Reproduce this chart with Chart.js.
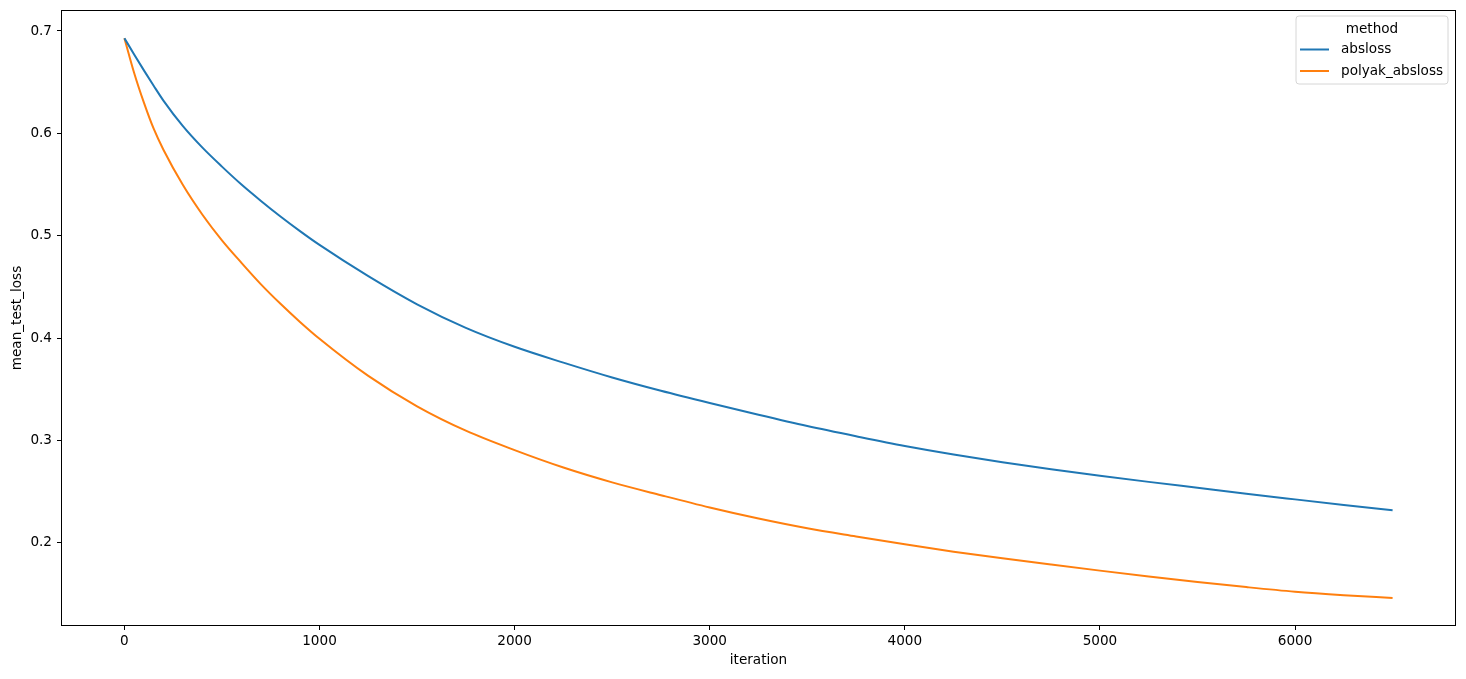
<!DOCTYPE html>
<html>
<head>
<meta charset="utf-8">
<script src="https://cdn.jsdelivr.net/npm/chart.js@4"></script>
<style>
html,body{margin:0;padding:0;background:#fff;}
canvas{display:block;}
</style>
</head>
<body>
<canvas id="c" width="1466" height="679"></canvas>
<script>
const iterations = [0,50,100,150,200,300,400,500,600,700,800,900,1000,1250,1500,1750,2000,2250,2500,2750,3000,3250,3500,3750,4000,4250,4500,4750,5000,5250,5500,5750,6000,6250,6500];
const absloss = [0.693,0.677,0.6615,0.6465,0.632,0.607,0.586,0.5675,0.550,0.534,0.5188,0.5045,0.4910,0.4605,0.4330,0.4100,0.3915,0.376,0.3615,0.3485,0.3365,0.325,0.314,0.304,0.2945,0.2862,0.2786,0.2718,0.2655,0.2595,0.2537,0.2479,0.2424,0.237,0.2318];
const polyakAbsloss = [0.693,0.659,0.630,0.6045,0.584,0.5495,0.5205,0.4955,0.4735,0.4525,0.4335,0.4158,0.3993,0.3630,0.3333,0.3095,0.2905,0.2735,0.259,0.2465,0.2345,0.2237,0.2142,0.2062,0.1985,0.1913,0.1848,0.1787,0.1728,0.1671,0.1617,0.1567,0.1522,0.1488,0.146];
const seriesNames = ['absloss','polyak_absloss'];
const legendTitle = 'method';
const xTickValues = [0,1000,2000,3000,4000,5000,6000];
const xTickLabels = ['0','1000','2000','3000','4000','5000','6000'];
const yTickValues = [0.2,0.3,0.4,0.5,0.6,0.7];
const yTickLabels = ['0.2','0.3','0.4','0.5','0.6','0.7'];
const xTitle = 'iteration';
const yTitle = 'mean_test_loss';

const FONT = 'DejaVu Sans';
const FS = 13.6;
const colors = ['#1f77b4','#ff7f0e'];

const toPts = vals => iterations.map((x,i)=>({x:x,y:vals[i]}));

const framePlugin = {
  id:'frame',
  afterDraw(chart){
    const {ctx, chartArea:a} = chart;
    ctx.save();
    ctx.strokeStyle = '#000';
    ctx.lineWidth = 1;
    ctx.strokeRect(Math.round(a.left)+0.5, Math.round(a.top)+0.5, Math.round(a.right-a.left)-1, Math.round(a.bottom-a.top)-1);
    // legend
    const bx=1296, by=16, bw=152, bh=68, r=3;
    ctx.beginPath();
    ctx.moveTo(bx+r,by); ctx.lineTo(bx+bw-r,by); ctx.quadraticCurveTo(bx+bw,by,bx+bw,by+r);
    ctx.lineTo(bx+bw,by+bh-r); ctx.quadraticCurveTo(bx+bw,by+bh,bx+bw-r,by+bh);
    ctx.lineTo(bx+r,by+bh); ctx.quadraticCurveTo(bx,by+bh,bx,by+bh-r);
    ctx.lineTo(bx,by+r); ctx.quadraticCurveTo(bx,by,bx+r,by);
    ctx.closePath();
    ctx.fillStyle='rgba(255,255,255,0.8)';
    ctx.fill();
    ctx.strokeStyle='#d6d6d6';
    ctx.stroke();
    ctx.font = FS+'px "'+FONT+'"';
    ctx.fillStyle='#000';
    ctx.textBaseline='middle';
    ctx.textAlign='center';
    ctx.fillText(legendTitle, bx+bw/2, 29);
    ctx.textAlign='left';
    chart.data.datasets.forEach((ds,i)=>{
      const y = 49.5 + i*21.5;
      ctx.strokeStyle = ds.borderColor;
      ctx.lineWidth = 2;
      ctx.beginPath(); ctx.moveTo(1300,y); ctx.lineTo(1329,y); ctx.stroke();
      ctx.fillStyle='#000';
      ctx.fillText(ds.label, 1341, y);
    });
    ctx.restore();
  }
};

function zeroPad(s){ s.paddingTop=0; s.paddingBottom=0; s.paddingLeft=0; s.paddingRight=0; }

new Chart(document.getElementById('c'), {
  type:'line',
  data:{
    datasets:[
      {label:seriesNames[0], data:toPts(absloss), borderColor:colors[0], backgroundColor:colors[0], borderWidth:2, pointRadius:0, fill:false, cubicInterpolationMode:'monotone'},
      {label:seriesNames[1], data:toPts(polyakAbsloss), borderColor:colors[1], backgroundColor:colors[1], borderWidth:2, pointRadius:0, fill:false, cubicInterpolationMode:'monotone'}
    ]
  },
  options:{
    responsive:false,
    animation:false,
    devicePixelRatio:1,
    layout:{padding:{left:0,right:10,top:10,bottom:0}},
    plugins:{legend:{display:false}, tooltip:{enabled:false}},
    scales:{
      x:{
        type:'linear', min:-325, max:6825,
        afterBuildTicks(s){ s.ticks = xTickValues.map(v=>({value:v})); },
        afterFit(s){ s.height = 53; zeroPad(s); },
        ticks:{color:'#000', font:{family:FONT,size:FS}, padding:3, maxRotation:0, autoSkip:false,
          callback:(v)=>{const i=xTickValues.indexOf(v); return i>=0?xTickLabels[i]:'';}},
        grid:{display:true, drawOnChartArea:false, drawTicks:true, tickLength:4, tickColor:'#000', tickWidth:1},
        border:{display:false},
        title:{display:true, text:xTitle, color:'#000', font:{family:FONT,size:FS}, padding:{top:0,bottom:10}}
      },
      y:{
        type:'linear', min:0.1187, max:0.7205,
        afterBuildTicks(s){ s.ticks = yTickValues.map(v=>({value:v})); },
        afterFit(s){ s.width = 61; zeroPad(s); },
        ticks:{color:'#000', font:{family:FONT,size:FS}, padding:5, autoSkip:false,
          callback:(v)=>{const i=yTickValues.findIndex(t=>Math.abs(t-v)<1e-9); return i>=0?yTickLabels[i]:'';}},
        grid:{display:true, drawOnChartArea:false, drawTicks:true, tickLength:4, tickColor:'#000', tickWidth:1},
        border:{display:false},
        title:{display:true, text:yTitle, color:'#000', font:{family:FONT,size:FS}, padding:{top:9,bottom:0}}
      }
    }
  },
  plugins:[framePlugin]
});
</script>
</body>
</html>
